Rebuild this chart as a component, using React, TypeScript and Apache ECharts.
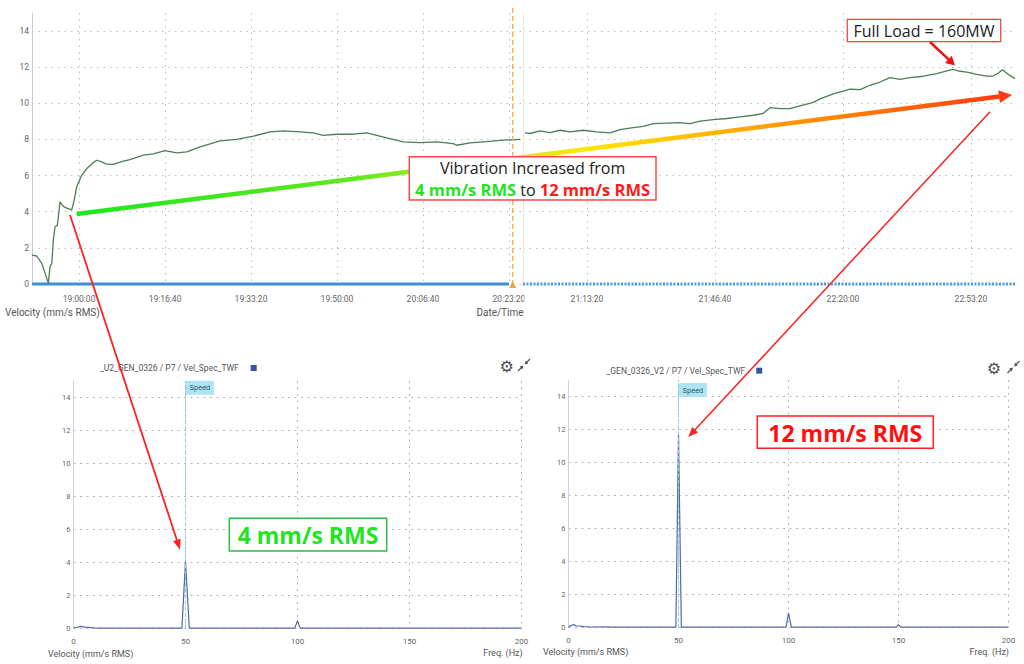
import React, { useEffect, useRef } from 'react';
import * as echarts from 'echarts';

// ---------- data ----------
const TOP_TICKS_LEFT = ['19:00:00', '19:16:40', '19:33:20', '19:50:00', '20:06:40', '20:23:20'];
const TOP_TICKS_RIGHT = ['21:13:20', '21:46:40', '22:20:00', '22:53:20'];
const Y_TICKS = [0, 2, 4, 6, 8, 10, 12, 14];
const FREQ_TICKS = [0, 50, 100, 150, 200];
const LEFT_RANGE = ['18:50:53', '20:26:03'];
const RIGHT_RANGE = ['20:56:40', '23:05:03'];

const vibrationBefore: [string, number][] = [
  ['18:50:53', 1.6], ['18:51:48', 1.55], ['18:52:46', 1.14], ['18:53:25', 0.6], ['18:54:03', 0.05],
  ['18:54:23', 0.96], ['18:54:43', 1.14], ['18:55:01', 2.43], ['18:55:21', 3.17], ['18:55:48', 3.26],
  ['18:56:19', 4.55], ['18:56:57', 4.3], ['18:57:37', 4.2], ['18:58:35', 4.1], ['18:59:02', 4.6],
  ['18:59:33', 5.38], ['19:00:31', 6.02], ['19:01:30', 6.39], ['19:02:46', 6.72], ['19:03:26', 6.85],
  ['19:04:24', 6.76], ['19:05:22', 6.63], ['19:06:39', 6.62], ['19:08:35', 6.8], ['19:09:53', 6.89],
  ['19:12:28', 7.13], ['19:14:24', 7.2], ['19:16:40', 7.38], ['19:18:56', 7.26], ['19:20:52', 7.31],
  ['19:23:27', 7.59], ['19:27:20', 7.92], ['19:30:34', 8.0], ['19:33:47', 8.18], ['19:37:01', 8.42],
  ['19:39:36', 8.47], ['19:42:50', 8.42], ['19:45:24', 8.36], ['19:47:21', 8.23], ['19:49:57', 8.29],
  ['19:53:10', 8.29], ['19:55:45', 8.36], ['19:57:42', 8.23], ['19:59:38', 8.09], ['20:02:51', 7.87],
  ['20:06:05', 7.83], ['20:09:19', 7.87], ['20:12:32', 7.77], ['20:13:12', 7.68], ['20:15:47', 7.81],
  ['20:19:01', 7.88], ['20:22:14', 7.96], ['20:25:28', 8.0],
];

const vibrationAfter: [string, number][] = [
  ['20:57:11', 8.36], ['20:58:29', 8.33], ['21:01:06', 8.47], ['21:03:42', 8.38], ['21:06:18', 8.51],
  ['21:08:54', 8.42], ['21:12:18', 8.51], ['21:15:52', 8.42], ['21:19:19', 8.36], ['21:21:56', 8.55],
  ['21:25:23', 8.66], ['21:28:00', 8.73], ['21:30:36', 8.88], ['21:34:05', 8.91], ['21:37:33', 8.93],
  ['21:40:09', 8.88], ['21:42:46', 9.02], ['21:46:13', 9.1], ['21:49:43', 9.16], ['21:53:11', 9.25],
  ['21:56:38', 9.34], ['21:59:15', 9.45], ['22:00:59', 9.76], ['22:03:36', 9.71], ['22:06:12', 9.71],
  ['22:08:48', 9.86], ['22:12:16', 10.05], ['22:14:01', 10.25], ['22:17:28', 10.52], ['22:21:49', 10.78],
  ['22:24:26', 10.76], ['22:27:02', 11.0], ['22:29:38', 11.18], ['22:32:14', 11.42], ['22:34:51', 11.33],
  ['22:37:27', 11.42], ['22:40:55', 11.5], ['22:44:24', 11.64], ['22:46:34', 11.77], ['22:48:34', 11.88],
  ['22:50:02', 11.79], ['22:52:13', 11.73], ['22:54:49', 11.6], ['22:57:25', 11.51], ['22:59:08', 11.51],
  ['23:00:27', 11.68], ['23:01:35', 11.86], ['23:03:03', 11.6], ['23:04:48', 11.37],
];

const statusBefore: [string, number][] = [['18:50:53', 0], ['20:23:20', 0]];
const statusAfter: [string, number][] = [['20:56:40', 0], ['23:05:03', 0]];

const SPEED_HZ = 50;
const spectrumU2: [number, number][] = [
  [0, 0.03], [1.5, 0.06], [3.3, 0.13], [5, 0.08], [7, 0.07], [9, 0.04], [12, 0.02],
  [48.4, 0.02], [50, 4.06], [51.7, 0.02], [98.8, 0.02], [100, 0.48], [101.2, 0.02], [200, 0.02],
];
const spectrumV2: [number, number][] = [
  [0, 0.05], [1, 0.1], [2.3, 0.18], [3.5, 0.1], [5, 0.09], [7, 0.05], [10, 0.03], [17, 0.04], [20, 0.02],
  [48.8, 0.02], [50, 11.75], [51.3, 0.02], [98.9, 0.02], [100, 0.88], [101.3, 0.02],
  [149, 0.02], [150, 0.18], [151, 0.02], [200, 0.02],
];

// ---------- helpers ----------
const toSec = (s: string) => {
  const [h, m, x] = s.split(':').map(Number);
  return h * 3600 + m * 60 + x;
};
const pad = (n: number) => String(n).padStart(2, '0');
const fmtTime = (v: number) => {
  const r = Math.round(v);
  return `${pad(Math.floor(r / 3600))}:${pad(Math.floor((r % 3600) / 60))}:${pad(r % 60)}`;
};

const FONT = 'Roboto, "DejaVu Sans", sans-serif';
const BOX_FONT = '"Open Sans", "Noto Sans", sans-serif';
const splitStyle = { color: '#bdbdbd', width: 1, type: [1.5, 5] as number[] };
const splitStyleBottom = { color: '#b5b5b5', width: 1, type: [2, 4.5] as number[] };

function text(t: string, x: number, y: number, size: number, align: string, fill = '#555', extra: any = {}) {
  return {
    type: 'text', x, y, z: 20,
    style: { text: t, fill, fontSize: size, fontFamily: FONT, align, verticalAlign: 'middle', ...extra },
  };
}

function arrow(x1: number, y1: number, x2: number, y2: number, stroke: any, head: string, width: number, len: number, half: number) {
  const dx = x2 - x1, dy = y2 - y1;
  const l = Math.hypot(dx, dy);
  const ux = dx / l, uy = dy / l;
  const bx = x2 - ux * len, by = y2 - uy * len;
  const px = -uy, py = ux;
  return [
    { type: 'line', z: 30, shape: { x1, y1, x2: bx + ux * 0.5, y2: by + uy * 0.5 }, style: { stroke, lineWidth: width } },
    {
      type: 'polygon', z: 30,
      shape: { points: [[x2, y2], [bx + px * half, by + py * half], [bx - px * half, by - py * half]] },
      style: { fill: head },
    },
  ];
}

function shrinkIcon(cx: number, cy: number) {
  const c = '#555';
  return {
    type: 'group', x: cx, y: cy, z: 20,
    children: [
      { type: 'line', shape: { x1: -6, y1: 6, x2: -1.5, y2: 1.5 }, style: { stroke: c, lineWidth: 1.2 } },
      { type: 'polygon', shape: { points: [[-0.6, 0.6], [-4.4, 1.6], [-1.6, 4.4]] }, style: { fill: c } },
      { type: 'line', shape: { x1: 6, y1: -6, x2: 1.5, y2: -1.5 }, style: { stroke: c, lineWidth: 1.2 } },
      { type: 'polygon', shape: { points: [[0.6, -0.6], [4.4, -1.6], [1.6, -4.4]] }, style: { fill: c } },
    ],
  };
}

function buildOption() {
  const leftTicks = TOP_TICKS_LEFT.map(toSec);
  const rightTicks = TOP_TICKS_RIGHT.map(toSec);
  const toPts = (arr: [string, number][]) => arr.map(([t, v]) => [toSec(t), v]);

  const topX = (min: string, max: string, ticks: number[], grid: number) => ({
    type: 'value', gridIndex: grid, min: toSec(min), max: toSec(max),
    axisLine: { show: false },
    axisTick: { show: false, customValues: ticks },
    axisLabel: { customValues: ticks, formatter: fmtTime, color: '#666', fontSize: 8.5, margin: 10, fontFamily: FONT },
    splitLine: { show: true, lineStyle: splitStyle },
  });
  const yAx = (grid: number, showLabels: boolean, lineColor: string, size: number, ss: any) => ({
    type: 'value', gridIndex: grid, min: 0, max: 15,
    axisLine: { show: true, lineStyle: { color: lineColor, width: 1 } },
    axisTick: { show: false, customValues: Y_TICKS },
    axisLabel: { show: showLabels, customValues: Y_TICKS, color: '#666', fontSize: size, margin: 3, fontFamily: FONT },
    splitLine: { show: true, lineStyle: ss },
  });
  const freqX = (grid: number) => ({
    type: 'value', gridIndex: grid, min: 0, max: 200,
    axisLine: { show: false },
    axisTick: { show: false, customValues: FREQ_TICKS },
    axisLabel: { customValues: FREQ_TICKS, color: '#666', fontSize: 8, margin: 9, fontFamily: FONT },
    splitLine: { show: true, lineStyle: splitStyleBottom },
  });

  const speedMark = (yVal: number) => ({
    markLine: {
      silent: true, symbol: 'none', animation: false,
      label: { show: false },
      lineStyle: { color: '#86d4e8', type: [4, 2], width: 1 },
      data: [{ xAxis: SPEED_HZ }],
    },
    markPoint: {
      silent: true, animation: false, symbol: 'rect', symbolSize: 1,
      itemStyle: { color: 'rgba(0,0,0,0)' },
      label: {
        show: true, position: 'right', distance: 0, formatter: 'Speed',
        backgroundColor: '#ade4f3', color: '#2f5866', fontSize: 7.5, padding: [3, 3.5], fontFamily: FONT,
      },
      data: [{ coord: [SPEED_HZ, yVal] }],
    },
  });

  const grad = new echarts.graphic.LinearGradient(0, 0, 1, 0, [
    { offset: 0, color: '#1ee61e' },
    { offset: 0.3, color: '#62e81e' },
    { offset: 0.45, color: '#c4ee22' },
    { offset: 0.56, color: '#ffe600' },
    { offset: 0.7, color: '#ffb000' },
    { offset: 0.85, color: '#ff7a00' },
    { offset: 1, color: '#ff3a10' },
  ]);

  const graphics: any[] = [
    // cursor
    { type: 'line', z: 15, shape: { x1: 512.7, y1: 8, x2: 512.7, y2: 283 }, style: { stroke: '#f7b25e', lineWidth: 1.5, lineDash: [5, 3] } },
    { type: 'polygon', z: 15, shape: { points: [[509.2, 288], [516.2, 288], [512.7, 281]] }, style: { fill: '#f2a640' } },
    // the right panel hides the end of the last left-hand time label
    { type: 'rect', z: 16, shape: { x: 524.5, y: 292, width: 12, height: 14 }, style: { fill: '#fff' } },
    // axis names
    text('Velocity (mm/s RMS)', 5, 312, 10, 'left', '#555'),
    text('Date/Time', 500, 312, 10, 'center', '#555'),
    text('Velocity (mm/s RMS)', 48, 654, 9, 'left', '#555'),
    text('Freq. (Hz)', 522.7, 653, 9, 'right', '#555'),
    text('Velocity (mm/s RMS)', 543, 652, 9, 'left', '#555'),
    text('Freq. (Hz)', 1009, 652, 9, 'right', '#555'),
    // legends
    text('_U2_GEN_0326 / P7 / Vel_Spec_TWF', 100, 368, 8.5, 'left', '#555'),
    { type: 'rect', z: 20, shape: { x: 250.7, y: 365, width: 6, height: 6 }, style: { fill: '#3a55a0' } },
    text('_GEN_0326_V2 / P7 / Vel_Spec_TWF', 606.5, 370.7, 8.5, 'left', '#555'),
    { type: 'rect', z: 20, shape: { x: 756.2, y: 367.7, width: 6, height: 6 }, style: { fill: '#3a55a0' } },
    // icons
    text('\u2699', 506.7, 366, 16, 'center', '#505050', { fontFamily: '"DejaVu Sans"' }),
    shrinkIcon(524, 365),
    text('\u2699', 994, 368.3, 16, 'center', '#505050', { fontFamily: '"DejaVu Sans"' }),
    shrinkIcon(1013.5, 367),
    // gradient trend arrow
    ...arrow(76.7, 214, 1012, 95, grad, '#ff3a10', 4.5, 13, 6.5),
    // vibration box
    { type: 'rect', z: 40, shape: { x: 409.3, y: 156.7, width: 246.7, height: 43.3 }, style: { fill: '#fff', stroke: '#ff4747', lineWidth: 1.5 } },
    {
      type: 'text', z: 41, x: 532.6, y: 168,
      style: { text: 'Vibration Increased from', fill: '#222', fontSize: 16, fontFamily: BOX_FONT, align: 'center', verticalAlign: 'middle' },
    },
    {
      type: 'text', z: 41, x: 532.6, y: 189.5,
      style: {
        text: '{g|4 mm/s RMS}{k| to }{r|12 mm/s RMS}',
        align: 'center', verticalAlign: 'middle', fontSize: 16, fontFamily: BOX_FONT,
        rich: {
          g: { fill: '#1fe41f', fontWeight: 'bold', fontSize: 16.5, fontFamily: BOX_FONT },
          k: { fill: '#222', fontSize: 16, fontFamily: BOX_FONT },
          r: { fill: '#ff1a1a', fontWeight: 'bold', fontSize: 16.5, fontFamily: BOX_FONT },
        },
      },
    },
    // full load box
    { type: 'rect', z: 40, shape: { x: 847.3, y: 19.3, width: 153.4, height: 22.4 }, style: { fill: '#fff', stroke: '#ff3a3a', lineWidth: 1.2 } },
    {
      type: 'text', z: 41, x: 924, y: 30.8,
      style: { text: 'Full Load = 160MW', fill: '#222', fontSize: 16, fontFamily: BOX_FONT, align: 'center', verticalAlign: 'middle' },
    },
    ...arrow(930, 42, 955, 65.5, '#ee1111', '#ee1111', 2.5, 9, 5),
    // 4 mm/s box
    { type: 'rect', z: 40, shape: { x: 229.3, y: 518.3, width: 157.4, height: 32.7 }, style: { fill: '#fff', stroke: '#2dbb4a', lineWidth: 1.5 } },
    {
      type: 'text', z: 41, x: 308, y: 535,
      style: { text: '4 mm/s RMS', fill: '#1fe41f', fontSize: 23, fontWeight: 'bold', fontFamily: BOX_FONT, align: 'center', verticalAlign: 'middle' },
    },
    // 12 mm/s box
    { type: 'rect', z: 40, shape: { x: 757.3, y: 416, width: 176, height: 32.3 }, style: { fill: '#fff', stroke: '#ff2020', lineWidth: 1.5 } },
    {
      type: 'text', z: 41, x: 845.3, y: 432.5,
      style: { text: '12 mm/s RMS', fill: '#ff1010', fontSize: 23, fontWeight: 'bold', fontFamily: BOX_FONT, align: 'center', verticalAlign: 'middle' },
    },
    // pointer arrows
    ...arrow(70, 215, 180, 549.5, '#ff2020', '#ff2020', 1.8, 10, 4),
    ...arrow(990, 111.7, 688.3, 437, '#ff2020', '#ff2020', 1.5, 10, 4),
  ];

  return {
    animation: false,
    backgroundColor: '#ffffff',
    textStyle: { fontFamily: FONT },
    grid: [
      { left: 32, top: 13, width: 491, height: 271 },
      { left: 523, top: 13, width: 493, height: 271 },
      { left: 73.5, top: 381, width: 448, height: 247.5 },
      { left: 568.5, top: 380, width: 440, height: 247.5 },
    ],
    xAxis: [
      topX(LEFT_RANGE[0], LEFT_RANGE[1], leftTicks, 0),
      topX(RIGHT_RANGE[0], RIGHT_RANGE[1], rightTicks, 1),
      freqX(2),
      freqX(3),
    ],
    yAxis: [
      yAx(0, true, '#c5cad6', 8.5, splitStyle),
      yAx(1, false, '#e8e8e8', 8.5, splitStyle),
      yAx(2, true, '#cdd2dc', 7.5, splitStyleBottom),
      yAx(3, true, '#cdd2dc', 7.5, splitStyleBottom),
    ],
    series: [
      {
        type: 'line', name: 'status-before', xAxisIndex: 0, yAxisIndex: 0, data: toPts(statusBefore),
        symbol: 'none', clip: false, z: 2, lineStyle: { color: '#3d8fd8', width: 3 },
      },
      {
        type: 'line', name: 'vibration-before', xAxisIndex: 0, yAxisIndex: 0, data: toPts(vibrationBefore),
        symbol: 'none', z: 3, lineStyle: { color: '#4c7d55', width: 1.3 },
      },
      {
        type: 'line', name: 'status-after', xAxisIndex: 1, yAxisIndex: 1, data: toPts(statusAfter),
        symbol: 'none', clip: false, z: 2, lineStyle: { color: '#4a9ce0', width: 3, type: [2, 1.5] },
      },
      {
        type: 'line', name: 'vibration-after', xAxisIndex: 1, yAxisIndex: 1, data: toPts(vibrationAfter),
        symbol: 'none', z: 3, lineStyle: { color: '#4c7d55', width: 1.3 },
      },
      {
        type: 'line', name: 'U2_GEN_0326 / P7 / Vel_Spec_TWF', xAxisIndex: 2, yAxisIndex: 2, data: spectrumU2,
        symbol: 'none', clip: false, z: 3, lineStyle: { color: '#5468a8', width: 1.2 },
        ...speedMark(14.59),
      },
      {
        type: 'line', name: 'GEN_0326_V2 / P7 / Vel_Spec_TWF', xAxisIndex: 3, yAxisIndex: 3, data: spectrumV2,
        symbol: 'none', clip: false, z: 3, lineStyle: { color: '#5468a8', width: 1.2 },
        ...speedMark(14.39),
      },
    ],
    graphic: { elements: graphics },
  };
}

export default function App() {
  const ref = useRef<HTMLDivElement>(null);
  useEffect(() => {
    if (!ref.current) return;
    const chart = echarts.init(ref.current, null, { renderer: 'svg' });
    chart.setOption(buildOption() as any);
    return () => chart.dispose();
  }, []);
  return (
    <div
      ref={ref}
      style={{ position: 'absolute', left: 0, top: 0, width: 1024, height: 664, background: '#fff' }}
    />
  );
}
